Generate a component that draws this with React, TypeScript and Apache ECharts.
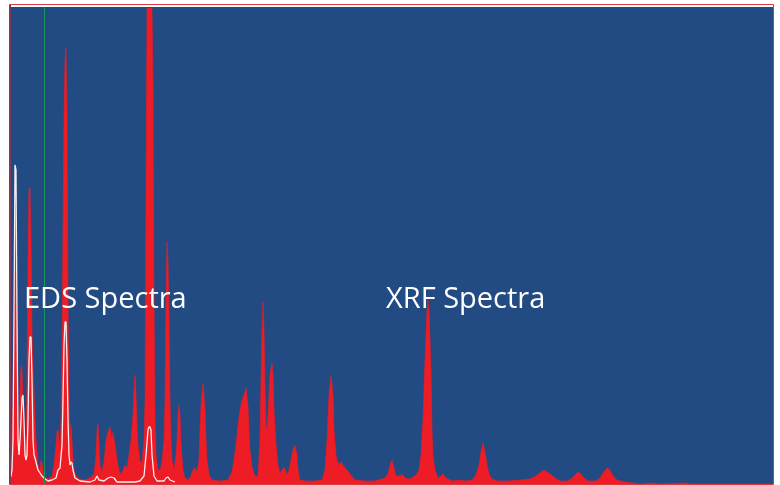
import { useEffect, useRef } from "react";
import * as echarts from "echarts";

// XRF spectrum: [channel, counts]
const xrfSpectrum: [number, number][] = [
  [0, 9], [1, 29], [2, 54], [3, 84], [4, 184], [5, 269], [6, 269], [7, 154], [8, 44], [9, 64],
  [10, 89], [11, 119], [12, 114], [13, 84], [14, 44], [15, 29], [16, 39], [17, 104], [18, 224], [19, 296],
  [20, 296], [21, 244], [22, 154], [23, 114], [24, 94], [25, 64], [26, 44], [27, 34], [28, 19], [29, 14],
  [30, 16], [31, 24], [32, 22], [33, 12], [34, 8], [36, 6], [38, 5], [40, 6], [42, 8], [44, 19],
  [46, 39], [47, 52], [48, 54], [49, 44], [50, 36], [51, 64], [52, 134], [53, 254], [54, 364], [55, 424],
  [56, 437], [57, 374], [58, 184], [59, 84], [60, 54], [61, 59], [62, 44], [63, 24], [64, 14], [66, 8],
  [70, 5], [75, 4], [80, 6], [84, 10], [86, 29], [87, 54], [88, 61], [89, 39], [90, 19], [92, 12],
  [94, 22], [96, 44], [98, 52], [100, 57], [101, 51], [102, 44], [103, 52], [105, 39], [107, 24], [109, 14],
  [111, 9], [113, 14], [115, 19], [117, 16], [119, 29], [121, 44], [123, 69], [124, 94], [125, 109], [126, 89],
  [127, 59], [128, 39], [130, 22], [132, 22], [134, 44], [135, 84], [136, 284], [137, 476], [142, 476], [143, 399],
  [144, 184], [145, 64], [146, 29], [148, 14], [150, 14], [152, 22], [154, 44], [155, 84], [156, 184], [157, 242],
  [158, 224], [159, 164], [160, 84], [161, 44], [162, 24], [164, 14], [166, 29], [167, 44], [168, 69], [169, 79],
  [170, 69], [171, 39], [173, 14], [175, 6], [178, 4], [181, 8], [183, 14], [185, 16], [187, 12], [189, 24],
  [190, 54], [191, 79], [193, 101], [195, 74], [196, 44], [197, 24], [199, 9], [202, 4], [210, 3], [218, 4],
  [222, 12], [224, 24], [226, 39], [228, 59], [230, 74], [232, 84], [234, 89], [236, 96], [238, 79], [239, 54],
  [240, 34], [242, 17], [244, 10], [246, 7], [248, 9], [250, 44], [251, 104], [252, 154], [253, 182], [254, 154],
  [255, 94], [256, 59], [257, 52], [258, 69], [260, 109], [262, 121], [263, 109], [264, 74], [266, 39], [268, 19],
  [270, 11], [272, 14], [274, 17], [276, 12], [277, 9], [279, 14], [281, 24], [283, 34], [285, 39], [287, 29],
  [288, 14], [290, 4], [295, 3], [305, 3], [312, 4], [315, 14], [317, 44], [319, 89], [321, 109], [323, 89],
  [324, 54], [326, 29], [327, 24], [329, 19], [331, 22], [333, 19], [335, 16], [337, 14], [340, 10], [345, 4],
  [355, 3], [365, 3], [375, 6], [378, 10], [380, 19], [382, 24], [384, 16], [386, 8], [390, 8], [392, 10],
  [394, 7], [398, 5], [402, 6], [406, 9], [409, 14], [411, 29], [413, 64], [415, 124], [417, 174], [418, 184],
  [419, 174], [421, 114], [422, 54], [423, 29], [425, 14], [428, 6], [431, 8], [433, 10], [436, 6], [442, 3],
  [450, 4], [456, 3], [462, 4], [466, 9], [469, 19], [471, 32], [473, 41], [475, 32], [477, 19], [479, 10],
  [482, 5], [488, 3], [498, 3], [510, 4], [520, 5], [526, 8], [531, 12], [534, 14], [537, 12], [540, 10],
  [545, 6], [550, 3], [558, 3], [562, 6], [565, 9], [568, 12], [571, 10], [574, 6], [578, 3], [586, 3],
  [590, 6], [593, 11], [597, 16], [600, 14], [603, 8], [607, 4], [615, 2], [623, 1], [630, 0], [645, 1],
  [647, 0], [677, 1], [680, 0], [763, 0],
];

// EDS spectrum: [channel, counts]
const edsSpectrum: [number, number][] = [
  [0, 6], [1, 8], [2, 14], [3, 44], [4, 171], [5, 319], [6, 314], [7, 164], [8, 44], [9, 29],
  [10, 44], [11, 64], [12, 86], [13, 89], [14, 64], [15, 29], [16, 24], [17, 29], [18, 64], [19, 124],
  [20, 147], [21, 147], [22, 104], [23, 44], [24, 29], [25, 26], [26, 22], [28, 14], [30, 11], [32, 8],
  [34, 6], [38, 3], [42, 4], [46, 6], [48, 14], [50, 16], [52, 39], [53, 84], [54, 139], [55, 162],
  [56, 162], [57, 124], [58, 64], [59, 29], [60, 19], [61, 22], [62, 21], [63, 14], [65, 6], [70, 3],
  [80, 2], [85, 4], [87, 8], [89, 4], [94, 3], [98, 6], [101, 7], [104, 6], [107, 2], [115, 2],
  [125, 2], [130, 3], [134, 8], [136, 29], [138, 54], [139, 57], [140, 57], [141, 54], [142, 29], [144, 8],
  [147, 3], [154, 3], [156, 6], [158, 7], [160, 4], [165, 2],
];

const markerChannel = 34;
const channelRange = [0, 763];
const countRange = [0, 477];
const spectrumLabels = ["EDS Spectra", "XRF Spectra"];

export default function App() {
  const ref = useRef<HTMLDivElement>(null);

  useEffect(() => {
    if (!ref.current) return;
    const chart = echarts.init(ref.current, undefined, { renderer: "svg" });
    const labelStyle = {
      fill: "#ffffff",
      font: "29px 'Open Sans', sans-serif",
      verticalAlign: "middle",
    };
    chart.setOption({
      animation: false,
      grid: {
        left: 10,
        right: 7,
        top: 7,
        bottom: 1,
        show: true,
        backgroundColor: "#224a83",
        borderWidth: 0,
      },
      xAxis: {
        type: "value",
        min: channelRange[0],
        max: channelRange[1],
        show: false,
      },
      yAxis: {
        type: "value",
        min: countRange[0],
        max: countRange[1],
        show: false,
      },
      series: [
        {
          name: "XRF",
          type: "line",
          data: xrfSpectrum,
          symbol: "none",
          silent: true,
          lineStyle: { color: "#ee1d25", width: 0.6 },
          areaStyle: { color: "#ee1d25", opacity: 1 },
          z: 2,
        },
        {
          name: "EDS",
          type: "line",
          data: edsSpectrum,
          symbol: "none",
          silent: true,
          lineStyle: { color: "#ffffff", width: 1.3, opacity: 0.92 },
          z: 3,
          markLine: {
            silent: true,
            symbol: "none",
            label: { show: false },
            lineStyle: { color: "#15985a", width: 1, type: "solid" },
            data: [{ xAxis: markerChannel }],
            z: 4,
          },
        },
      ],
      graphic: [
        {
          type: "rect",
          z: 100,
          shape: { x: 9.5, y: 4.5, width: 764, height: 480 },
          style: { fill: "none", stroke: "#d83a40", lineWidth: 1 },
        },
        {
          type: "line",
          z: 101,
          shape: { x1: 10, y1: 5, x2: 10, y2: 484 },
          style: { stroke: "#7a3a5c", lineWidth: 2 },
        },
        {
          type: "text",
          z: 100,
          x: 24,
          y: 296,
          style: { ...labelStyle, text: spectrumLabels[0] },
        },
        {
          type: "text",
          z: 100,
          x: 386,
          y: 296,
          style: { ...labelStyle, text: spectrumLabels[1] },
        },
      ],
    });
    return () => chart.dispose();
  }, []);

  return (
    <div
      ref={ref}
      style={{ position: "fixed", left: 0, top: 0, width: 780, height: 485 }}
    />
  );
}
